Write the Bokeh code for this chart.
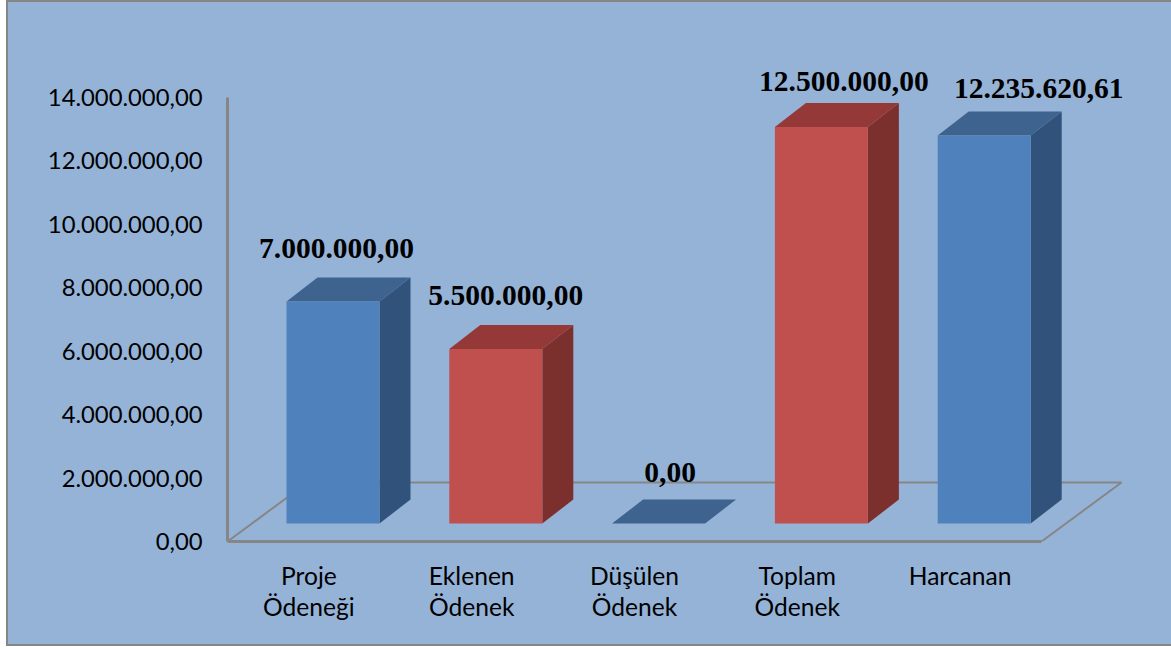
from bokeh.plotting import figure
from bokeh.models import FixedTicker, ColumnDataSource
from bokeh.core.properties import value
from bokeh.embed import file_html
from bokeh.resources import INLINE

categories = ["Proje\nÖdeneği", "Eklenen\nÖdenek", "Düşülen\nÖdenek", "Toplam\nÖdenek", "Harcanan"]
amounts = [7000000.00, 5500000.00, 0.00, 12500000.00, 12235620.61]
amount_labels = ["7.000.000,00", "5.500.000,00", "0,00", "12.500.000,00", "12.235.620,61"]
tick_values = [0, 2000000, 4000000, 6000000, 8000000, 10000000, 12000000, 14000000]
tick_labels = ["0,00", "2.000.000,00", "4.000.000,00", "6.000.000,00", "8.000.000,00",
               "10.000.000,00", "12.000.000,00", "14.000.000,00"]

BG, GRID = "#95B3D7", "#868686"
FACE = ["#4F81BD", "#C0504D", "#4F81BD", "#C0504D", "#4F81BD"]
SIDE = ["#31527B", "#7C302E", "#31527B", "#7C302E", "#31527B"]
TOP = ["#3E638F", "#943937", "#3E638F", "#943937", "#3E638F"]
label_dx = [3.5, 10, 11.5, 22.5, 54.5]
label_dy = [-53, -54, -51, -46, -47]

# one data unit in pixels
UX = 162.8
UY = 444 / 14e6
px = lambda v: v / UX
py = lambda v: v / UY

W, H = 1165, 646
LEFT, BOTTOM = 219, 107
p = figure(width=W, height=H, output_backend="svg", toolbar_location=None,
           x_range=(0, px(W - LEFT)), y_range=(0, py(H - BOTTOM)),
           min_border_left=LEFT, min_border_bottom=BOTTOM, min_border_top=0, min_border_right=0,
           background_fill_color=BG, border_fill_color=BG, outline_line_color=None)
p.grid.visible = False
p.styles = {"margin-left": "6px", "margin-top": "0px", "background-color": BG,
            "border-left": f"2px solid {GRID}", "border-top": f"2px solid {GRID}",
            "border-bottom": f"2px solid {GRID}"}

# floor
n = len(categories)
fx, fy = px(80), py(59)
p.multi_line(xs=[[0, fx, n + fx, n]], ys=[[0, fy, fy, 0]], line_color=GRID, line_width=2)

# bars
x0 = px(59)
bw, dx, dy, base = px(93), px(31), py(24), py(18)
fxs, fys, sxs, sys_, txs, tys = [], [], [], [], [], []
for i, a in enumerate(amounts):
    l, r, b, t = i + x0, i + x0 + bw, base, base + a
    fxs.append([l, r, r, l]); fys.append([b, b, t, t])
    sxs.append([r, r + dx, r + dx, r]); sys_.append([b, b + dy, t + dy, t])
    txs.append([l, r, r + dx, l + dx]); tys.append([t, t, t + dy, t + dy])
p.patches(sxs, sys_, fill_color=SIDE, line_color=None)
p.patches(txs, tys, fill_color=TOP, line_color=None)
p.patches(fxs, fys, fill_color=FACE, line_color=None)

src = ColumnDataSource(dict(
    x=[i + x0 + bw / 2 for i in range(n)],
    y=[base + a for a in amounts],
    t=amount_labels,
    xo=label_dx,
    yo=label_dy,
))
p.text("x", "y", text="t", source=src, x_offset="xo", y_offset="yo",
       text_align="center", text_baseline="middle", text_color="#000000",
       text_font=value("Liberation Serif"), text_font_style="bold", text_font_size="29.5px")

ya = p.yaxis[0]
ya.ticker = FixedTicker(ticks=tick_values)
ya.major_label_overrides = dict(zip(tick_values, tick_labels))
ya.bounds = (0, 14000000)
ya.axis_line_color = GRID
ya.axis_line_width = 3
ya.major_tick_line_color = None
ya.minor_tick_line_color = None
ya.major_tick_out = 0
ya.major_label_standoff = 25
ya.major_label_text_font = "Lato"
ya.major_label_text_font_size = "23.8px"
ya.major_label_text_color = "#000000"

xa = p.xaxis[0]
centers = [i + 0.5 for i in range(n)]
xa.ticker = FixedTicker(ticks=centers)
xa.major_label_overrides = dict(zip(centers, categories))
xa.bounds = (0, n)
xa.axis_line_color = GRID
xa.axis_line_width = 3
xa.major_tick_line_color = None
xa.minor_tick_line_color = None
xa.major_tick_out = 0
xa.major_label_standoff = 19
xa.major_label_orientation = "horizontal"
xa.major_label_text_font = "Lato"
xa.major_label_text_font_size = "24.6px"
xa.major_label_text_color = "#000000"
xa.major_label_text_line_height = 1.08

open("out.html", "w").write(file_html(p, INLINE))
